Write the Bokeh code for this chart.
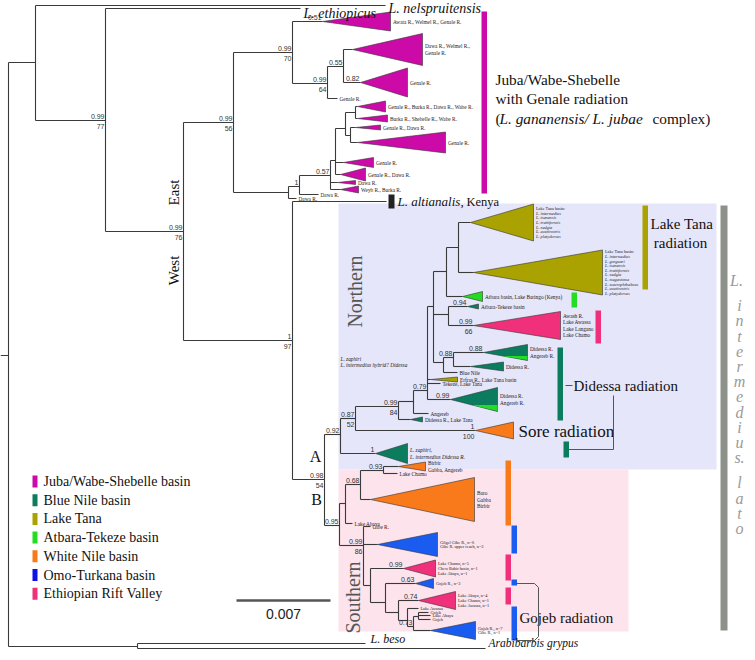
from bokeh.plotting import figure
from bokeh.models import Range1d
from bokeh.embed import file_html
from bokeh.resources import INLINE
from bokeh.core.properties import value
import math

# ---------------- tree data (x = cumulative branch length in px units, y = row) -------------
nodes = [
    # name, parent, x, y
    ("root", None, 8, 355),
    ("n_ne", "root", 35, 62),
    ("nels", "n_ne", 385, 5),
    ("n_eth", "n_ne", 105, 120),
    ("ethi", "n_eth", 300, 8),
    ("n_ew", "n_eth", 183, 231),
    ("n_east", "n_ew", 233, 122),
    ("n_e1", "n_east", 292, 52),
    ("t_awata", "n_e1", 322, 21),
    ("n_e2", "n_e1", 327, 83),
    ("n_e3", "n_e2", 343, 66),
    ("t_dawa1", "n_e3", 352, 49),
    ("t_gen1", "n_e3", 360, 82),
    ("l_gen1", "n_e2", 337, 98),
    ("n_e4", "n_east", 288, 192),
    ("n_e5", "n_e4", 299, 186),
    ("l_dawa2", "n_e4", 296, 198),
    ("n_e6", "n_e5", 330, 175),
    ("l_dawa3", "n_e5", 318, 194),
    ("n_e7", "n_e6", 335, 160),
    ("t_dawa4", "n_e6", 337, 182),
    ("t_weyb", "n_e6", 340, 189),
    ("n_e8", "n_e7", 345, 128),
    ("t_gen2", "n_e7", 343, 162),
    ("t_gd1", "n_e7", 340, 174),
    ("n_e9", "n_e8", 355, 112),
    ("n_e10", "n_e8", 350, 135),
    ("t_gbdw", "n_e9", 357, 106),
    ("t_bsw", "n_e9", 357, 118),
    ("t_gd2", "n_e10", 355, 127),
    ("t_gen3", "n_e10", 357, 142),
    ("n_west", "n_ew", 292, 340),
    ("l_alti", "n_west", 386, 201),
    ("n_ab", "n_west", 324, 479),
    ("n_092", "n_ab", 340, 434),
    ("n_087", "n_092", 355, 418),
    ("t_zaph", "n_092", 375, 453),
    ("n_084", "n_087", 398, 406),
    ("t_sore", "n_087", 475, 430),
    ("n_X", "n_084", 413, 401),
    ("t_didLT", "n_084", 410, 419),
    ("n_079", "n_X", 427, 390),
    ("l_ang", "n_X", 428, 413),
    ("n_U", "n_079", 433, 306),
    ("t_erf", "n_079", 430, 379),
    ("l_tek", "n_079", 440, 383),
    ("t_did099", "n_079", 450, 399),
    ("n_LTA", "n_U", 446, 271),
    ("n_LT", "n_LTA", 458, 247),
    ("t_lt1", "n_LT", 470, 222),
    ("t_lt2", "n_LT", 473, 272),
    ("t_atb", "n_LTA", 462, 296),
    ("n_S", "n_U", 448, 314),
    ("t_atbT", "n_S", 467, 306),
    ("t_rift1", "n_S", 473, 325),
    ("n_T", "n_U", 443, 362),
    ("n_088", "n_T", 453, 357),
    ("t_did088", "n_088", 483, 352),
    ("t_did2", "n_088", 470, 366),
    ("l_bn", "n_T", 457, 372),
    ("n_095", "n_ab", 339, 525),
    ("n_a", "n_095", 345, 503),
    ("n_068", "n_a", 360, 484),
    ("n_093", "n_068", 383, 470),
    ("t_birbir", "n_093", 398, 466),
    ("l_chamo", "n_093", 397, 473),
    ("t_baro", "n_068", 370, 499),
    ("l_abaya", "n_a", 352, 523),
    ("n_b", "n_095", 363, 545),
    ("l_gibe", "n_b", 370, 526),
    ("t_gilgel", "n_b", 377, 544),
    ("n_c", "n_b", 370, 585),
    ("t_chamo", "n_c", 403, 568),
    ("n_d", "n_c", 385, 602),
    ("t_goj3", "n_d", 415, 583),
    ("n_e", "n_d", 398, 612),
    ("t_abaya", "n_e", 418, 600),
    ("n_f", "n_e", 407, 620),
    ("l_awassa", "n_f", 418, 608),
    ("n_g", "n_f", 413, 626),
    ("n_h", "n_g", 418, 616),
    ("l_goj_a", "n_h", 428, 612),
    ("l_aba2", "n_h", 430, 615),
    ("l_goj_b", "n_h", 430, 619),
    ("t_goj7", "n_g", 430, 630),
    ("n_out", "root", 137, 646),
    ("beso", "n_out", 365, 643),
    ("grypus", "n_out", 485, 648),
]

# collapsed clades: node -> (right edge depth, half height, group)
triangles = {
    "t_awata": (390, 9.5, "Juba"), "t_dawa1": (422, 16, "Juba"), "t_gen1": (407, 14.5, "Juba"),
    "t_gbdw": (385, 5.5, "Juba"), "t_bsw": (387, 3.5, "Juba"), "t_gd2": (380, 2.5, "Juba"),
    "t_gen3": (445, 10.5, "Juba"), "t_gen2": (373, 5, "Juba"), "t_gd1": (365, 6.5, "Juba"),
    "t_dawa4": (355, 2, "Juba"), "t_weyb": (358, 3.5, "Juba"),
    "t_zaph": (407, 10, "BlueNile"), "t_sore": (513, 8.5, "WhiteNile"),
    "t_didLT": (422, 2.5, "BlueNile"), "t_erf": (457, 2.5, "Tana"), "t_did099": (497, 12, "BlueNile"),
    "t_lt1": (533, 18.5, "Tana"), "t_lt2": (602, 22.5, "Tana"), "t_atb": (482, 5, "Atbara"),
    "t_atbT": (478, 2.5, "BlueNile"), "t_rift1": (560, 14, "Rift"),
    "t_did088": (527, 8, "BlueNile"), "t_did2": (503, 4.5, "BlueNile"),
    "t_birbir": (425, 4.5, "WhiteNile"), "t_baro": (474, 22, "WhiteNile"),
    "t_gilgel": (437, 12, "Omo"), "t_chamo": (435, 8.5, "Rift"), "t_goj3": (433, 5, "Omo"),
    "t_abaya": (455, 9, "Rift"), "t_goj7": (475, 9, "Omo"),
}
# clades that also hold Atbara-Tekeze (bright green) samples
mixed_clades = ["t_did088", "t_did099"]

support = {
    "n_eth": ("0.99", "77"), "n_ew": ("0.99", "76"), "n_east": ("0.99", "56"),
    "n_e1": ("0.99", "70"), "t_awata": ("0.51", ""), "n_e2": ("0.99", "64"),
    "n_e3": ("0.55", ""), "t_gen1": ("0.82", ""), "n_e5": ("1", ""), "n_e6": ("0.57", ""),
    "n_west": ("1", "97"), "n_ab": ("0.98", "54"), "n_092": ("0.92", ""),
    "n_087": ("0.87", "52"), "t_zaph": ("1", ""), "t_sore": ("1", "100"),
    "n_084": ("0.99", "84"), "n_079": ("0.79", ""), "t_did099": ("0.99", ""),
    "t_atbT": ("0.94", ""), "t_rift1": ("0.99", "66"), "n_088": ("0.88", ""),
    "t_did088": ("0.88", ""), "n_095": ("0.95", ""), "n_068": ("0.68", ""),
    "n_093": ("0.93", ""), "n_b": ("0.99", "86"), "t_chamo": ("0.99", ""),
    "t_goj3": ("0.63", ""), "t_abaya": ("0.74", ""), "n_g": ("0.73", ""),
}

tip_labels = {
    "t_awata": ["Awata R., Welmel R., Genale R."],
    "t_dawa1": ["Dawa R., Welmel R.,", "Genale R."],
    "t_gen1": ["Genale R."], "l_gen1": ["Genale R."],
    "t_gbdw": ["Genale R., Burka R., Dawa R., Wabe R."],
    "t_bsw": ["Burka R., Shebelle R., Wabe R."],
    "t_gd2": ["Genale R., Dawa R."], "t_gen3": ["Genale R."],
    "t_gen2": ["Genale R."], "t_gd1": ["Genale R., Dawa R."],
    "t_dawa4": ["Dawa R."], "t_weyb": ["Weyb R., Burka R."],
    "l_dawa3": ["Dawa R."], "l_dawa2": ["Dawa R."],
    "t_lt1": ["Lake Tana basin:", "L. intermedius", "L. tsanensis", "L. truttiformis",
              "L. nedgia", "L. acutirostris", "L. platydorsus"],
    "t_lt2": ["Lake Tana basin:", "L. intermedius", "L. gorguari", "L. tsanensis",
              "L. truttiformis", "L. nedgia", "L. megastoma", "L. macrophthalmus",
              "L. acutirostris", "L. platydorsus"],
    "t_atb": ["Atbara basin, Lake Baringo (Kenya)"], "t_atbT": ["Atbara-Tekeze basin"],
    "t_rift1": ["Awash R.", "Lake Awassa", "Lake Langano", "Lake Chamo"],
    "t_did088": ["Didessa R.", "Angereb R."], "t_did2": ["Didessa R."],
    "l_bn": ["Blue Nile"], "t_erf": ["Erfras R., Lake Tana basin"],
    "l_tek": ["Tekeze, Lake Tana"], "t_did099": ["Didessa R.", "Angereb R."],
    "l_ang": ["Angereb"], "t_didLT": ["Didessa R., Lake Tana"],
    "t_zaph": ["L. zaphiri,", "L. intermedius Didessa R."],
    "t_birbir": ["Birbir", "Gabba, Angereb"], "l_chamo": ["Lake Chamo"],
    "t_baro": ["Baro", "Gabba", "Birbir"], "l_abaya": ["Lake Abaya"], "l_gibe": ["Gibe R."],
    "t_gilgel": ["Gilgel Gibe R., n=6", "Gibe R. upper reach, n=3"],
    "t_chamo": ["Lake Chamo, n=5", "Chew Bahir basin, n=1", "Lake Abaya, n=1"],
    "t_goj3": ["Gojeb R., n=3"],
    "t_abaya": ["Lake Abaya, n=4", "Lake Chamo, n=1", "Lake Awassa, n=1"],
    "l_awassa": ["Lake Awassa"], "l_goj_a": ["Gojeb"], "l_aba2": ["Lake Abaya"],
    "l_goj_b": ["Gojeb"], "t_goj7": ["Gojeb R., n=7", "Gibe R., n=1"],
}

group_colors = {
    "Juba": "#cc0aa8", "BlueNile": "#0b7d5e", "Tana": "#a9a200", "Atbara": "#22dd22",
    "WhiteNile": "#f97a1a", "Omo": "#1a5cf0", "Rift": "#f0307a",
}
legend_names = ["Juba/Wabe-Shebelle basin", "Blue Nile basin", "Lake Tana", "Atbara-Tekeze basin",
                "White Nile basin", "Omo-Turkana basin", "Ethiopian Rift Valley"]
legend_colors = ["#cc0aa8", "#0b7d5e", "#a9a200", "#22dd22", "#f97a1a", "#1010e8", "#f0307a"]

# side bars: (colour, x, y_top, y_bottom)
side_bars = [
    ("#cc0aa8", 481, 11, 193), ("#a9a200", 642, 205, 289), ("#22dd22", 571, 292, 307),
    ("#f0307a", 595, 310, 343), ("#0b7d5e", 557, 347, 420), ("#0b7d5e", 563, 441, 457),
    ("#f97a1a", 505, 460, 525), ("#1a5cf0", 511, 525, 553), ("#f0307a", 505, 554, 580),
    ("#1a5cf0", 511, 579, 585), ("#f0307a", 505, 587, 604), ("#1a5cf0", 511, 606, 640),
]

# vertical clade name, one glyph group per row ("" = word gap)
vertical_name = ["L.", "", "i", "n", "t", "e", "r", "m", "e", "d", "i", "u", "s.", "", "l", "a", "t", "o"]

SERIF = value("Liberation Serif")
SANS = value("Liberation Sans")

W, H = 745, 650
p = figure(width=W, height=H, x_range=Range1d(0, W), y_range=Range1d(H, 0),
           output_backend="svg", toolbar_location=None,
           x_axis_location=None, y_axis_location=None, min_border=0)
p.grid.visible = False
p.outline_line_color = None
p.background_fill_color = "white"

p.quad(left=[338], right=[716], top=[203], bottom=[469], fill_color="#e6e6fa", line_color=None)
p.quad(left=[338], right=[628], top=[469], bottom=[631], fill_color="#fde3ec", line_color=None)

pos = {n: (x, y) for n, par, x, y in nodes}
children = {}
for n, par, x, y in nodes:
    if par is not None:
        children.setdefault(par, []).append(n)

hx0, hx1, hy = [], [], []
for n, par, x, y in nodes:
    if par is not None:
        hx0.append(pos[par][0]); hx1.append(x); hy.append(y)
vx, vy0, vy1 = [], [], []
for n, ch in children.items():
    ys = [pos[c][1] for c in ch]
    vx.append(pos[n][0]); vy0.append(min(ys)); vy1.append(max(ys))

LINE = "#3a3a3a"
p.segment(x0=hx0, y0=hy, x1=hx1, y1=hy, line_color=LINE, line_width=1.1)
p.segment(x0=vx, y0=vy0, x1=vx, y1=vy1, line_color=LINE, line_width=1.1)
p.segment(x0=[0], y0=[pos["root"][1]], x1=[pos["root"][0]], y1=[pos["root"][1]],
          line_color=LINE, line_width=1.1)

txs, tys, tcol = [], [], []
for n, (rx, h, g) in triangles.items():
    ax, ay = pos[n]
    txs.append([ax, rx, rx]); tys.append([ay, ay - h, ay + h]); tcol.append(group_colors[g])
p.patches(xs=txs, ys=tys, fill_color=tcol, line_color="#333333", line_width=0.6)

mxs, mys = [], []
for n in mixed_clades:
    rx, h, g = triangles[n]
    ax, ay = pos[n]
    mid = ax + (rx - ax) * 0.45
    mxs.append([mid, rx, rx]); mys.append([ay + h * 0.45, ay + h * 0.45, ay + h - 0.4])
p.patches(xs=mxs, ys=mys, fill_color="#22dd22", line_color=None)

p.quad(left=[b[1] for b in side_bars], right=[b[1] + 5.5 for b in side_bars],
       top=[b[2] for b in side_bars], bottom=[b[3] for b in side_bars],
       fill_color=[b[0] for b in side_bars], line_color=None)
p.quad(left=[720], right=[727], top=[205], bottom=[630], fill_color="#8c9189", line_color=None)
p.quad(left=[388], right=[394], top=[194], bottom=[208], fill_color="#222222", line_color=None)

sx, sy, st = [], [], []
bx, by, bt = [], [], []
for n, (a, b) in support.items():
    x, y = pos[n]
    if a:
        sx.append(x - 1); sy.append(y - 4.5); st.append(a)
    if b:
        bx.append(x - 1); by.append(y + 5.5); bt.append(b)
p.text(x=sx, y=sy, text=st, text_font=SANS, text_font_size="7px", text_align="right",
       text_baseline="middle", text_color="#333333")
p.text(x=bx, y=by, text=bt, text_font=SANS, text_font_size="7px", text_align="right",
       text_baseline="middle", text_color="#333333")

lx, ly, lt, lfs, lst = [], [], [], [], []
for n, lines in tip_labels.items():
    x, y = pos[n]
    x0 = triangles[n][0] + 2.5 if n in triangles else x + 2
    small = n in ("t_gilgel", "t_chamo", "t_goj3", "t_abaya", "t_goj7", "l_awassa",
                  "l_goj_a", "l_aba2", "l_goj_b", "t_lt1", "t_lt2")
    step = 4.6 if small else 6.2
    for i, s in enumerate(lines):
        lx.append(x0); ly.append(y + (i - (len(lines) - 1) / 2) * step); lt.append(s)
        lfs.append("4.3px" if small else "5.3px")
        lst.append("italic" if s.startswith("L. ") else "normal")
p.text(x=lx, y=ly, text=lt, text_font=SERIF, text_font_size=lfs, text_font_style=lst,
       text_align="left", text_baseline="middle", text_color="#222222")

def t(x, y, s, size, style="normal", color="#111111", angle=0, font=SERIF, align="left"):
    p.text(x=[x], y=[y], text=[s], text_font=font, text_font_size=size, text_font_style=style,
           text_color=color, angle=angle, text_align=align, text_baseline="middle")

t(303, 13, "L. ethiopicus", "14px", "italic")
t(388, 7.5, "L. nelspruitensis", "14px", "italic")
t(397, 201, "L. altianalis", "13px", "italic")
t(460, 201, ",", "13px")
t(466, 201, "Kenya", "12.5px")
t(340, 358, "L. zaphiri", "5.3px", "italic", color="#222222")
t(340, 364, "L. intermedius hybrid? Didessa", "5.3px", "italic", color="#222222")
t(495, 79, "Juba/Wabe-Shebelle", "15.3px")
t(495, 98, "with Genale radiation", "15.3px")
t(495, 118, "(", "15.3px")
t(499, 118, "L. gananensis/ L. jubae", "15.3px", "italic")
t(652, 118, "complex)", "15.3px")
t(650, 223, "Lake Tana", "15px")
t(680, 242, "radiation", "15px", align="center")
t(573, 385, "Didessa radiation", "15px")
t(518, 431, "Sore radiation", "17px")
t(519, 617, "Gojeb radiation", "15px")
t(173, 192, "East", "15px", angle=math.pi / 2, align="center")
t(173, 270, "West", "15px", angle=math.pi / 2, align="center")
t(315, 456, "A", "16px", align="center")
t(316, 499, "B", "16px", align="center")
t(354, 291, "Northern", "20px", color="#555555", angle=math.pi / 2, align="center")
t(352, 597, "Southern", "20px", color="#555555", angle=math.pi / 2, align="center")
t(370, 638, "L. beso", "12px", "italic")
t(488, 642, "Arabibarbis grypus", "11.5px", "italic")

p.line([565, 572], [385, 385], line_color="#555555", line_width=1)
p.line([613, 613, 568], [395, 449, 449], line_color="#555555", line_width=1)
p.line([516, 534, 538, 538, 534, 516], [583, 583, 587, 636, 640, 640], line_color="#555555", line_width=1)

yy = 280
for i, s in enumerate(vertical_name):
    if s:
        t(736 if s == "L." else 739, yy, s, "16px", "italic", color="#9a9a9a", align="center")
    yy += 10 if s == "" else 15.2

p.line([236, 330], [600, 600], line_color="#555555", line_width=2.5)
t(283, 613, "0.007", "14px", font=SANS, align="center", color="#222222")

for i, (nm, c) in enumerate(zip(legend_names, legend_colors)):
    y = 481 + i * 18.7
    p.quad(left=[32], right=[37], top=[y - 6], bottom=[y + 6], fill_color=c, line_color=None)
    t(43, y, nm, "14px")

open("out.html", "w").write(file_html(p, INLINE))
